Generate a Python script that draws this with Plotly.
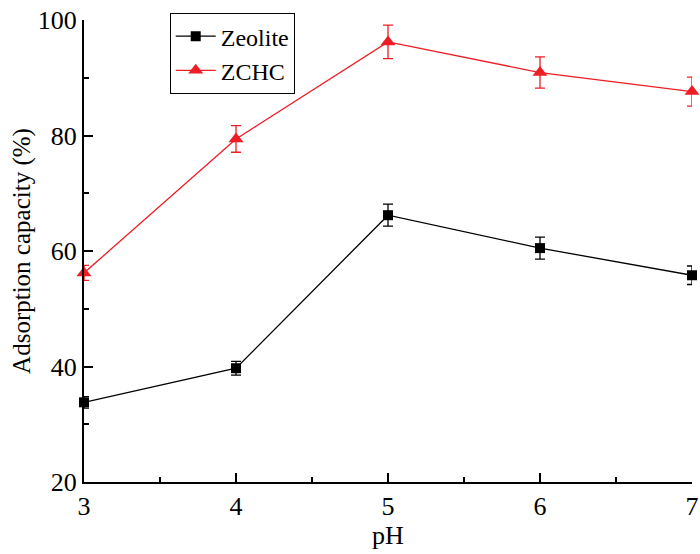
import plotly.graph_objects as go

ph = [3, 4, 5, 6, 7]
zeolite = [33.8, 39.7, 66.2, 60.5, 55.8]
zeolite_err = [1.0, 1.2, 1.9, 1.9, 1.6]
zchc = [56.2, 79.4, 96.2, 90.9, 87.6]
zchc_err = [1.3, 2.3, 2.9, 2.7, 2.5]

RED = "#ee1c25"
FONT = "'Liberation Serif', 'Times New Roman', Times, serif"

fig = go.Figure()
fig.add_trace(go.Scatter(
    x=ph, y=zeolite, name="Zeolite", mode="lines+markers",
    line=dict(color="black", width=1.3),
    marker=dict(symbol="square", size=10, color="black"),
    error_y=dict(type="data", array=zeolite_err, color="black", thickness=1.3, width=5),
    cliponaxis=False,
))
fig.add_trace(go.Scatter(
    x=ph, y=zchc, name="ZCHC", mode="lines+markers",
    line=dict(color=RED, width=1.3),
    marker=dict(symbol="triangle-up", size=13, color=RED),
    error_y=dict(type="data", array=zchc_err, color=RED, thickness=1.3, width=5),
    cliponaxis=False,
))

fig.update_layout(
    width=700, height=554,
    margin=dict(l=84, r=8, t=20, b=72, autoexpand=False),
    paper_bgcolor="white", plot_bgcolor="white",
    font=dict(family=FONT, size=26, color="black"),
    showlegend=True,
    legend=dict(
        x=0.141, y=1.015, xanchor="left", yanchor="top",
        bordercolor="black", borderwidth=1, bgcolor="white",
        font=dict(family=FONT, size=24),
        itemsizing="trace", tracegroupgap=0, itemwidth=40,
    ),
    xaxis=dict(
        range=[3, 7], tickvals=[3, 4, 5, 6, 7], automargin=False,
        showgrid=False, zeroline=False,
        showline=True, linecolor="black", linewidth=2,
        ticks="inside", ticklen=9, tickwidth=2, tickcolor="black",
        minor=dict(dtick=0.5, tick0=3, ticks="inside", ticklen=5, tickwidth=2, tickcolor="black"),
        tickfont=dict(family=FONT, size=26),
        title=dict(text="pH", font=dict(family=FONT, size=26), standoff=4),
    ),
    yaxis=dict(
        range=[20, 100], tickvals=[20, 40, 60, 80, 100], automargin=False,
        showgrid=False, zeroline=False,
        showline=True, linecolor="black", linewidth=2,
        ticks="inside", ticklen=9, tickwidth=2, tickcolor="black",
        minor=dict(dtick=10, tick0=20, ticks="inside", ticklen=5, tickwidth=2, tickcolor="black"),
        tickfont=dict(family=FONT, size=26),
        title=dict(text="Adsorption capacity (%)", font=dict(family=FONT, size=25), standoff=0),
    ),
)

fig.write_html("out.html")
